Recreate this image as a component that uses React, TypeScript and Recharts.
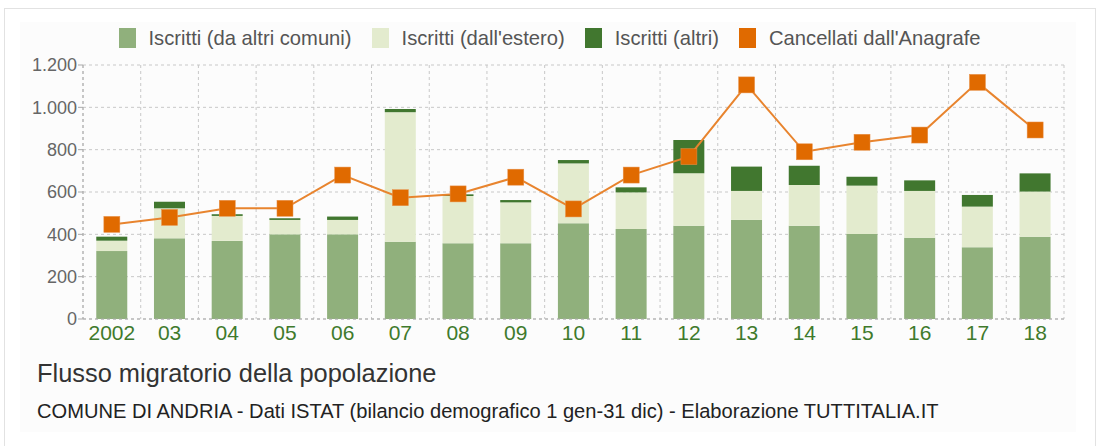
import React from "react";
import { ComposedChart, Bar, Line, XAxis, YAxis, CartesianGrid } from "recharts";

const years = ["2002", "03", "04", "05", "06", "07", "08", "09", "10", "11", "12", "13", "14", "15", "16", "17", "18"];
const altriComuni = [321, 381, 369, 400, 400, 365, 358, 358, 452, 425, 441, 468, 441, 402, 384, 339, 389];
const estero = [49, 142, 118, 68, 68, 612, 223, 193, 283, 173, 247, 137, 192, 228, 221, 192, 213];
const altri = [19, 31, 8, 8, 16, 15, 8, 11, 16, 24, 158, 115, 91, 42, 50, 55, 86];
const cancellati = [447, 480, 523, 523, 680, 573, 591, 670, 520, 680, 767, 1106, 790, 835, 869, 1118, 893];
const yTicks = [0, 200, 400, 600, 800, 1000, 1200];

const seriesNames = ["Iscritti (da altri comuni)", "Iscritti (dall'estero)", "Iscritti (altri)", "Cancellati dall'Anagrafe"];
const seriesColors = ["#90b07c", "#e3ebce", "#41772f", "#e06a00"];

const FONT = "'Liberation Sans', Arial, Helvetica, sans-serif";

const data = years.map((y, i) => ({
  year: y,
  a: altriComuni[i],
  b: estero[i],
  c: altri[i],
  d: cancellati[i],
}));

const fmt = (v: number) => {
  const s = String(v);
  return s.length > 3 ? s.slice(0, s.length - 3) + "." + s.slice(s.length - 3) : s;
};

const SquareDot = (props: any) => {
  const { cx, cy } = props;
  if (cx == null || cy == null) return null;
  return <rect x={cx - 8} y={cy - 8} width={16} height={16} fill="#e06a00" stroke="#e8914a" strokeWidth={0.5} />;
};

const LegendBox = () => (
  <div style={{ position: "absolute", left: 0, top: 28, width: 1099, height: 20, display: "flex", justifyContent: "center", alignItems: "center", fontFamily: FONT, fontSize: 20.2, color: "#555" }}>
    {seriesNames.map((n, i) => (
      <div key={n} style={{ display: "flex", alignItems: "center", marginRight: i < 3 ? 20 : 0 }}>
        <div style={{ width: 17, height: 20, background: seriesColors[i], marginRight: 13 }} />
        <span style={{ whiteSpace: "nowrap" }}>{n}</span>
      </div>
    ))}
  </div>
);

export default function App() {
  return (
    <div style={{ position: "absolute", left: 0, top: 0, width: 1099, height: 446, background: "#fff", overflow: "hidden" }}>
      <div style={{ position: "absolute", left: 4, top: 8, width: 1090, height: 440, border: "1px solid #e2e2e2", background: "#fff" }} />
      <div style={{ position: "absolute", left: 20, top: 22, width: 1056, height: 410, background: "#fcfcfc" }} />
      <LegendBox />
      <div style={{ position: "absolute", left: 0, top: 0 }}>
        <ComposedChart
          width={1099}
          height={446}
          data={data}
          margin={{ top: 65, right: 35, left: 0, bottom: 97 }}
          barCategoryGap="23%"
        >
          <CartesianGrid
            stroke="#c8c8c8"
            strokeDasharray="3 3"
            verticalCoordinatesGenerator={({ offset }: any) =>
              Array.from({ length: years.length + 1 }, (_, i) => offset.left + (i * offset.width) / years.length)
            }
          />
          <XAxis
            dataKey="year"
            height={30}
            tickLine={false}
            axisLine={{ stroke: "#aaa", strokeDasharray: "3 3" }}
            tick={{ fill: "#3f7a2c", fontSize: 21, fontFamily: FONT }}
            tickMargin={0}
            interval={0}
          />
          <YAxis
            width={83}
            domain={[0, 1200]}
            ticks={yTicks}
            tickFormatter={fmt}
            axisLine={{ stroke: "#aaa", strokeDasharray: "3 3" }}
            tickLine={{ stroke: "#aaa" }}
            tickSize={5}
            tickMargin={1}
            tick={{ fill: "#666", fontSize: 18, fontFamily: FONT }}
          />
          <Bar dataKey="a" name={seriesNames[0]} stackId="s" fill={seriesColors[0]} isAnimationActive={false} />
          <Bar dataKey="b" name={seriesNames[1]} stackId="s" fill={seriesColors[1]} isAnimationActive={false} />
          <Bar dataKey="c" name={seriesNames[2]} stackId="s" fill={seriesColors[2]} isAnimationActive={false} />
          <Line
            dataKey="d"
            name={seriesNames[3]}
            stroke="#e8842e"
            strokeWidth={2}
            dot={<SquareDot />}
            activeDot={false}
            isAnimationActive={false}
          />
        </ComposedChart>
      </div>
      <div style={{ position: "absolute", left: 37, top: 359, fontFamily: FONT, fontSize: 25.4, color: "#333", whiteSpace: "nowrap" }}>
        Flusso migratorio della popolazione
      </div>
      <div style={{ position: "absolute", left: 37, top: 400, fontFamily: FONT, fontSize: 20.1, color: "#222", whiteSpace: "nowrap" }}>
        COMUNE DI ANDRIA - Dati ISTAT (bilancio demografico 1 gen-31 dic) - Elaborazione TUTTITALIA.IT
      </div>
    </div>
  );
}
